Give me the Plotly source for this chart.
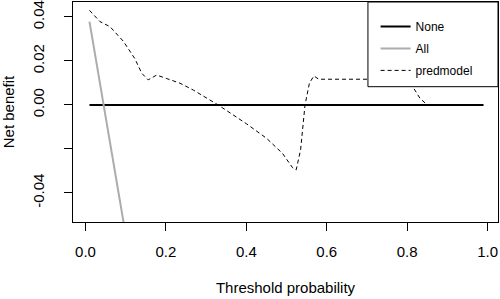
import plotly.graph_objects as go

# Data
none_x = [0.01, 0.99]
none_y = [0.0, 0.0]

all_x = [0.01, 0.04, 0.07, 0.10]
all_y = [0.0379, 0.0050, -0.0270, -0.0590]

pred_x = [0.01, 0.036, 0.061, 0.094, 0.123, 0.14, 0.156, 0.177, 0.202, 0.235,
          0.268, 0.33, 0.40, 0.45, 0.49, 0.515, 0.524, 0.535, 0.546, 0.557,
          0.568, 0.58, 0.80, 0.815, 0.832, 0.849]
pred_y = [0.0430, 0.0379, 0.0356, 0.0290, 0.0210, 0.0144, 0.0114, 0.0136, 0.0120, 0.0099,
          0.0068, 0.0000, -0.0085, -0.0151, -0.0220, -0.0285, -0.0295, -0.0205, 0.0000, 0.0099,
          0.0132, 0.0117, 0.0117, 0.0080, 0.0030, 0.0002]

x_ticks = [0.0, 0.2, 0.4, 0.6, 0.8, 1.0]
x_ticklabels = ["0.0", "0.2", "0.4", "0.6", "0.8", "1.0"]
y_ticks = [-0.04, -0.02, 0.0, 0.02, 0.04]
y_ticklabels = ["-0.04", "", "0.00", "0.02", "0.04"]

FONT = "Liberation Sans, Arial, sans-serif"

fig = go.Figure()
fig.add_trace(go.Scatter(x=none_x, y=none_y, mode="lines", name="None",
                         legendgroup="a", line=dict(color="black", width=2)))
fig.add_trace(go.Scatter(x=all_x, y=all_y, mode="lines", name="All",
                         legendgroup="b", line=dict(color="#acacac", width=2)))
fig.add_trace(go.Scatter(x=pred_x, y=pred_y, mode="lines", name="predmodel",
                         legendgroup="c",
                         line=dict(color="black", width=1, dash="4px,3px")))

# legend box (white, framed) drawn over the plot like R's legend()
fig.add_shape(type="rect", xref="paper", yref="paper",
              x0=0.694, x1=1.0, y0=0.615, y1=1.0,
              fillcolor="white", line=dict(color="black", width=1),
              layer="above")

fig.update_layout(
    width=500, height=299,
    margin=dict(l=73, r=2, t=2, b=77, autoexpand=False),
    paper_bgcolor="white", plot_bgcolor="white",
    font=dict(family=FONT, size=15, color="black"),
    showlegend=True,
    legend=dict(x=0.712, y=0.955, xanchor="left", yanchor="top",
                bgcolor="rgba(0,0,0,0)", borderwidth=0,
                font=dict(size=12, family=FONT),
                itemwidth=30, tracegroupgap=3),
    xaxis=dict(range=[-0.031, 1.026], tickvals=x_ticks, ticktext=x_ticklabels,
               automargin=False, ticklabelstandoff=8,
               showgrid=False, zeroline=False, showline=True, mirror=True,
               linecolor="black", linewidth=1, ticks="outside", ticklen=8,
               tickcolor="black",
               title=dict(text="Threshold probability", standoff=23,
                          font=dict(size=15))),
    yaxis=dict(range=[-0.0532, 0.0468], tickvals=y_ticks, ticktext=y_ticklabels,
               tickangle=-90, automargin=False, ticklabelstandoff=14,
               showgrid=False, zeroline=False, showline=True, mirror=True,
               linecolor="black", linewidth=1, ticks="outside", ticklen=8,
               tickcolor="black",
               title=dict(text="Net benefit", standoff=12,
                          font=dict(size=15))),
)

fig.write_html("out.html", config={"displayModeBar": False},
               post_script="document.body.style.margin='0';document.body.style.padding='0';")
